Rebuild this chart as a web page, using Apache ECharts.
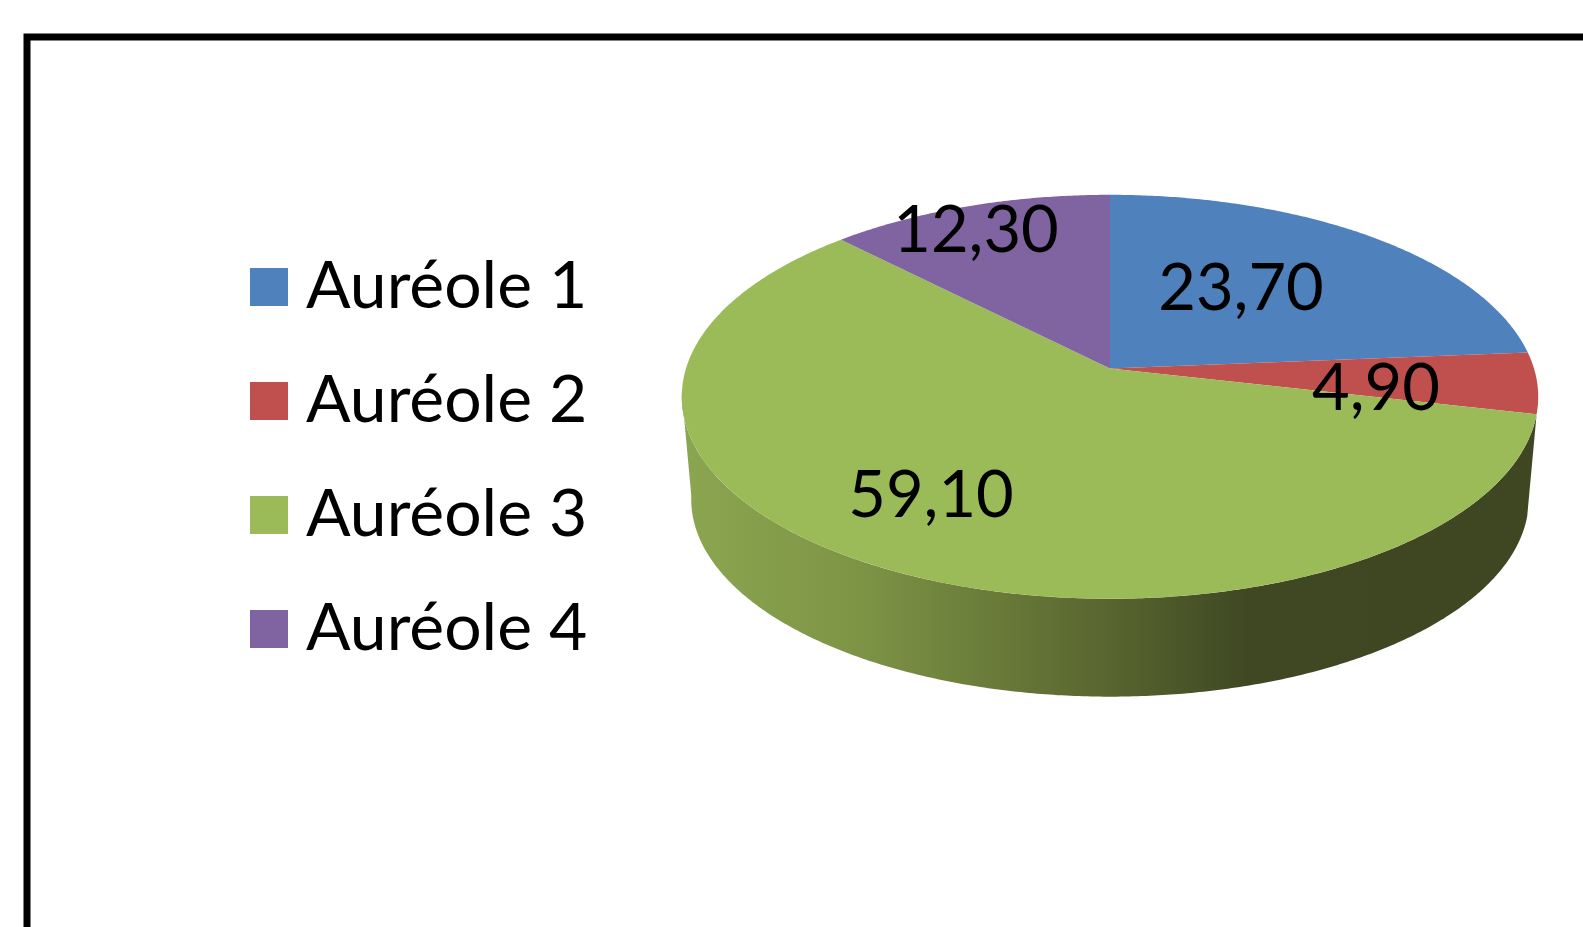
<!DOCTYPE html>
<html>

<head>
	<meta charset="utf-8">
	<title>Auréoles</title>
	<script src="https://cdn.jsdelivr.net/npm/echarts@6/dist/echarts.min.js"></script>
	<style>
		html, body { margin: 0; padding: 0; background: #fff; }
	</style>
</head>

<body>
	<div id="main" style="width: 1583px;height:927px;"></div>

	<script type="text/javascript">
		var categories = ['Auréole 1', 'Auréole 2', 'Auréole 3', 'Auréole 4'];
		var shares = [23.7, 4.9, 59.1, 12.3];
		var colors = ['#4f81bd', '#c0504d', '#9bbb59', '#8064a2'];
		var labelPos = [[1241, 289], [1376, 389], [931, 496], [976, 231]];

		// the pie is seen in perspective: a circle through a small homography
		var apex = [1110, 368.5];
		var radX = 424, radY = 198, persp = 0.14;
		// bottom of the disc is a bit smaller and lower
		var depth = 103, shrink = 0.978;
		var fontName = 'Lato, Carlito, "Open Sans", sans-serif';
		var total = shares.reduce(function (a, b) { return a + b; }, 0);

		function project(deg, scale, dy) {
			var t = deg * Math.PI / 180;
			var x = Math.sin(t), y = Math.cos(t);
			var w = 1 + persp * y;
			return [apex[0] + radX * scale * x / w, apex[1] + dy - radY * scale * y / w];
		}

		function arc(from, to, scale, dy) {
			var pts = [];
			var n = Math.max(2, Math.ceil(Math.abs(to - from) * 2));
			for (var i = 0; i <= n; i++) {
				pts.push(project(from + (to - from) * i / n, scale, dy));
			}
			return pts;
		}

		function renderSlice(params, api) {
			var idx = params.seriesIndex;
			var before = shares.slice(0, idx).reduce(function (a, b) { return a + b; }, 0);
			var start = before / total * 360;
			var end = start + api.value(0) / total * 360;
			var children = [];

			// only the big green slice shows its wall
			if (idx === 2) {
				var wallFrom = start, wallTo = Math.min(end, 263);
				var wall = arc(wallFrom, wallTo, 1, 0).concat(arc(wallTo, wallFrom, shrink, depth));
				children.push({
					type: 'polygon',
					shape: { points: wall },
					style: {
						fill: {
							type: 'linear', x: 680, y: 0, x2: 1540, y2: 0, global: true,
							colorStops: [
								{ offset: 0, color: '#8ba650' },
								{ offset: 0.2, color: '#7e9546' },
								{ offset: 0.5, color: '#58652f' },
								{ offset: 0.66, color: '#3f4822' },
								{ offset: 1, color: '#3e4721' }
							]
						}
					}
				});
			}

			children.push({
				type: 'polygon',
				shape: { points: [apex].concat(arc(start, end, 1, 0)) },
				style: { fill: colors[idx] }
			});
			children.push({
				type: 'text',
				z2: 10,
				x: labelPos[idx][0],
				y: labelPos[idx][1],
				style: {
					text: api.value(0).toFixed(2).replace('.', ','),
					font: '65px ' + fontName,
					fill: '#000',
					align: 'center',
					verticalAlign: 'middle'
				}
			});
			return { type: 'group', children: children };
		}

		var myChart = echarts.init(document.getElementById('main'));
		var option = {
			animation: false,
			backgroundColor: '#fff',
			legend: {
				orient: 'vertical',
				left: 250,
				top: 254,
				icon: 'rect',
				itemWidth: 38,
				itemHeight: 38,
				itemGap: 48,
				padding: 0,
				data: categories,
				textStyle: {
					fontFamily: fontName,
					fontSize: 66,
					color: '#000',
					padding: [0, 0, 0, 13]
				}
			},
			graphic: [{
				type: 'rect',
				shape: { x: 27, y: 37, width: 2000, height: 2000 },
				style: { fill: 'none', stroke: '#000', lineWidth: 7 },
				silent: true
			}],
			series: categories.map(function (name, i) {
				return {
					name: name,
					type: 'custom',
					coordinateSystem: 'none',
					renderItem: renderSlice,
					itemStyle: { color: colors[i] },
					data: [[shares[i]]]
				};
			})
		};
		myChart.setOption(option);
	</script>
</body>

</html>
